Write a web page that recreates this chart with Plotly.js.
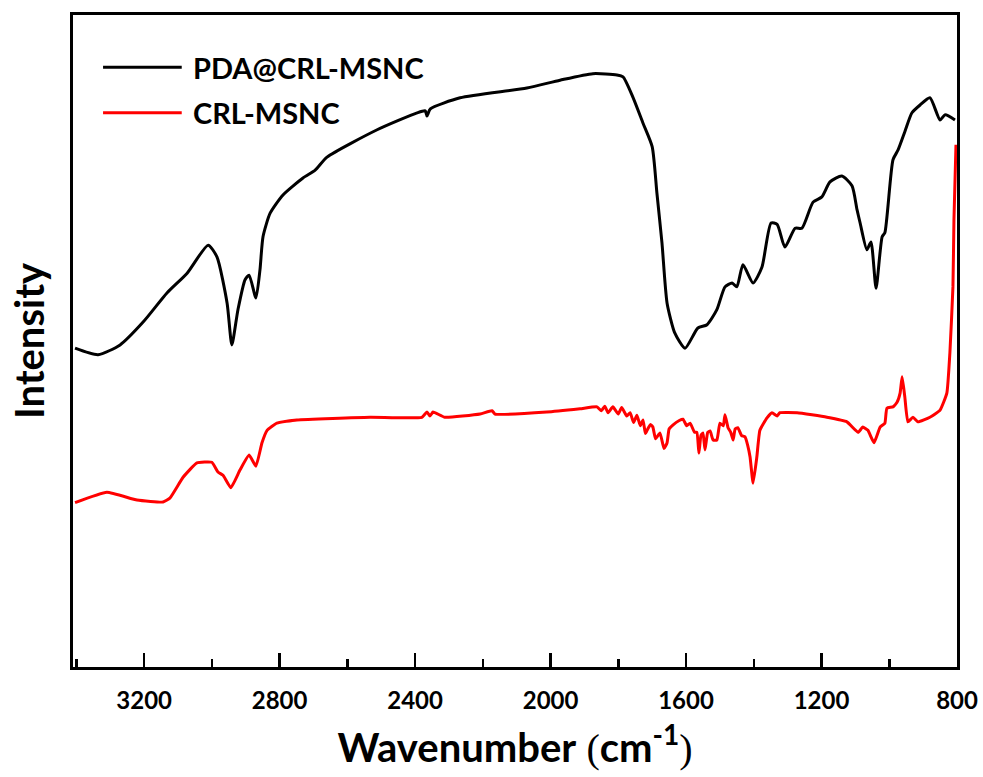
<!DOCTYPE html>
<html><head><meta charset="utf-8">
<script src="https://cdn.plot.ly/plotly-3.0.1.min.js"></script>
<style>html,body{margin:0;padding:0;background:#fff}#chart{width:983px;height:777px}</style>
</head><body><div id="chart"></div>
<script>
const seriesNames = ["PDA@CRL-MSNC", "CRL-MSNC"];
const seriesColors = ["#000000", "#ff0000"];

const pdaWavenumber = [3404,3336,3271,3203,3132,3073,3011,2985,2955,2941,2923,2902,2890,2870,2858,2849,2828,2790,2731,2695,2660,2512,2394,2370,2365,2355,2267,2070,1972,1875,1804,1786,1757,1727,1700,1686,1671,1656,1633,1603,1565,1538,1509,1485,1464,1450,1432,1402,1376,1349,1331,1308,1278,1258,1225,1199,1175,1140,1110,1095,1086,1066,1054,1039,1021,1013,989,974,954,933,909,880,850,835,806];
const pdaIntensity = [48.9,47.9,49.4,52.9,57.4,60.4,64.7,62.9,55.8,49.4,54.8,59.4,60.1,56.6,60.9,66.0,69.6,72.4,75.0,76.2,78.2,82.4,85.0,85.3,84.5,85.6,87.3,88.8,90.0,91.0,90.8,90.5,87.4,83.4,79.8,72.7,65.0,55.8,51.2,48.9,52.0,52.5,54.8,58.3,58.9,58.3,61.7,58.9,61.3,68.1,67.9,64.4,67.3,67.3,71.3,72.1,74.4,75.3,73.8,70.1,68.1,64.0,65.2,58.1,66.0,66.6,77.8,79.3,82.1,85.0,86.2,87.3,83.9,84.7,83.9];

const crlWavenumber = [3404,3310,3221,3144,3124,3085,3044,3000,2982,2967,2944,2917,2890,2870,2852,2837,2808,2749,2533,2380,2365,2356,2347,2312,2208,2173,2164,2011,1913,1863,1850,1840,1830,1816,1800,1790,1775,1765,1755,1745,1735,1727,1720,1715,1705,1698,1690,1677,1665,1656,1650,1639,1620,1609,1598,1588,1575,1568,1562,1556,1550,1544,1536,1529,1520,1509,1500,1490,1485,1476,1468,1461,1455,1447,1436,1426,1418,1411,1402,1391,1382,1361,1346,1331,1323,1272,1184,1125,1092,1078,1063,1045,1027,1013,1007,989,977,968,962,954,945,930,915,880,850,830,821,812,809,803];
const crlIntensity = [25.2,26.8,25.6,25.3,25.9,29.1,31.3,31.4,29.9,29.4,27.5,30.2,32.5,30.8,34.4,36.3,37.4,37.9,38.3,38.3,39.1,38.5,39.1,38.3,38.8,39.3,38.8,39.1,39.6,39.9,39.3,40.0,39.0,39.9,38.8,39.8,38.5,39.0,37.5,38.6,37.0,37.9,35.8,36.3,37.2,36.8,35.0,35.9,33.5,34.4,36.5,37.1,37.8,38.0,37.0,37.4,36.0,36.0,32.8,35.5,35.9,33.3,36.0,36.2,34.8,34.8,37.4,37.0,38.7,36.7,36.0,34.8,36.5,36.7,35.5,35.3,34.0,32.2,28.2,32.2,36.3,38.2,39.0,38.5,39.0,39.0,38.3,37.6,36.0,36.8,36.3,34.4,36.8,37.4,39.7,39.9,40.6,42.0,44.5,41.4,37.6,38.3,37.6,38.3,39.4,42.0,48.2,58.3,68.6,80.1];

const xTick0 = 800, xDtick = 400, xMinorDtick = 200;

const FONT = "Lato, 'Open Sans', sans-serif";

const traces = [
  {x: pdaWavenumber, y: pdaIntensity, name: seriesNames[0], type: "scatter", mode: "lines",
   line: {color: seriesColors[0], width: 3, shape: "spline", smoothing: 0.6}, showlegend: false},
  {x: crlWavenumber, y: crlIntensity, name: seriesNames[1], type: "scatter", mode: "lines",
   line: {color: seriesColors[1], width: 3, shape: "spline", smoothing: 0.4}, showlegend: false}
];

const legendY = [0.92, 0.85];
const shapes = [], annotations = [];
seriesNames.forEach((n, i) => {
  shapes.push({type: "line", xref: "paper", yref: "paper", x0: 0.034, x1: 0.123, y0: legendY[i], y1: legendY[i],
               line: {color: seriesColors[i], width: 3}});
  annotations.push({xref: "paper", yref: "paper", x: 0.133, y: legendY[i], xanchor: "left", yanchor: "middle",
               text: "<b>" + n + "</b>", showarrow: false, font: {family: FONT, size: 29, color: "#000"}});
});

const layout = {
  width: 983, height: 777,
  margin: {l: 73, r: 26, t: 15, b: 110},
  paper_bgcolor: "#fff", plot_bgcolor: "rgba(0,0,0,0)",
  xaxis: {
    range: [3410, 800], autorange: false,
    tickmode: "linear", tick0: xTick0, dtick: xDtick,
    ticks: "inside", ticklen: 14, tickwidth: 2.5, tickcolor: "#000",
    ticklabelstandoff: 10,
    minor: {tickmode: "linear", tick0: xTick0, dtick: xMinorDtick, ticks: "inside", ticklen: 8, tickwidth: 2.5, tickcolor: "#000"},
    showline: true, linecolor: "#000", linewidth: 3, mirror: true,
    showgrid: false, zeroline: false, layer: "above traces",
    tickfont: {family: FONT, size: 24, color: "#000", weight: "bold"},
    title: {text: "<b>Wavenumber</b> <span style='font-family:Liberation Serif;font-weight:normal'>(</span><b>cm<sup>-1</sup></b><span style='font-family:Liberation Serif;font-weight:normal'>)</span>",
            font: {family: FONT, size: 40, color: "#000"}, standoff: 22}
  },
  yaxis: {
    range: [0, 100], autorange: false,
    showticklabels: false, ticks: "",
    showline: true, linecolor: "#000", linewidth: 3, mirror: true,
    showgrid: false, zeroline: false,
    title: {text: "<b>Intensity</b>", font: {family: FONT, size: 40, color: "#000"}, standoff: 14}
  },
  shapes: shapes,
  annotations: annotations
};

Plotly.newPlot("chart", traces, layout, {displayModeBar: false, staticPlot: true});
</script>
</body></html>
